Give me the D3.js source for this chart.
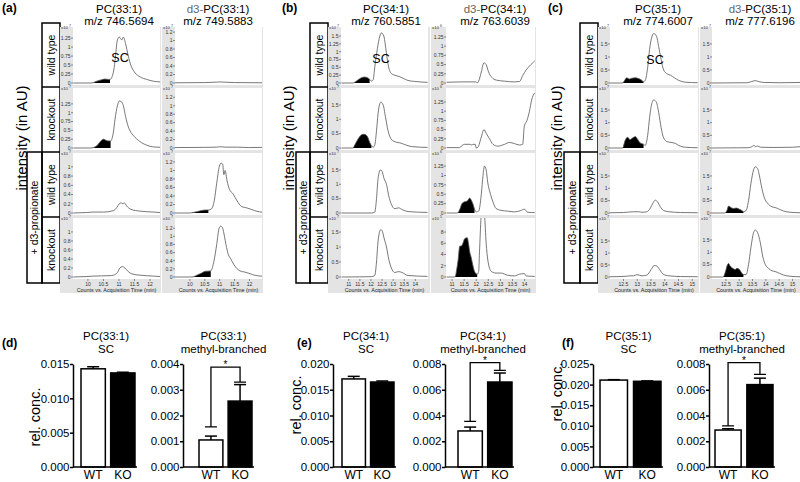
<!DOCTYPE html>
<html>
<head>
<meta charset="utf-8">
<script src="https://cdn.jsdelivr.net/npm/d3@7"></script>
<style>
  body { margin: 0; background: #fff; }
  text { font-family: "Liberation Sans", Arial, sans-serif; }
</style>
</head>
<body>
<svg id="fig" width="800" height="482"></svg>
<script>
// ---------- chromatogram data: [time (min), intensity] ----------
// (a) PC(33:1) / d3-PC(33:1), x10^7
const a_pc_wt = [[9.53,0],[10.10,0],[10.17,0.01],[10.28,0.05],[10.44,0.09],[10.55,0.11],[10.66,0.1],[10.71,0.1],[10.82,0.3],[10.87,0.6],[10.95,1.2],[11.01,1.28],[11.09,1.2],[11.14,1.28],[11.21,1.1],[11.30,0.75],[11.38,0.5],[11.52,0.28],[11.68,0.17],[11.89,0.1],[12.11,0.05],[12.32,0.03]];
const a_pc_ko = [[9.53,0],[10.10,0],[10.17,0.01],[10.28,0.06],[10.37,0.15],[10.44,0.22],[10.50,0.25],[10.58,0.22],[10.66,0.2],[10.73,0.2],[10.82,0.45],[10.87,0.8],[10.95,1.2],[11.01,1.33],[11.09,1.3],[11.14,1.2],[11.21,0.9],[11.30,0.6],[11.38,0.45],[11.52,0.3],[11.73,0.15],[11.89,0.08],[12.11,0.03],[12.32,0.02]];
const a_pc_wtP = [[9.53,0],[9.96,0.01],[10.17,0.02],[10.50,0.02],[10.82,0.05],[10.93,0.12],[11.01,0.2],[11.07,0.22],[11.12,0.2],[11.17,0.22],[11.25,0.15],[11.38,0.08],[11.68,0.04],[12.11,0.02],[12.32,0.01]];
const a_pc_koP = [[9.53,0],[9.96,0.01],[10.17,0.02],[10.71,0.03],[10.82,0.04],[10.95,0.1],[11.03,0.2],[11.11,0.23],[11.19,0.2],[11.30,0.12],[11.41,0.07],[11.68,0.04],[12.11,0.02],[12.32,0.01]];
const a_d3_wt = [[9.5,0.005],[10.5,0.01],[10.9,0.02],[11.0,0.025],[11.15,0.02],[11.5,0.01],[12.42,0.005]];
const a_d3_ko = [[9.5,0.01],[10.5,0.015],[10.9,0.02],[11.0,0.03],[11.2,0.02],[11.6,0.02],[12.0,0.01],[12.42,0.015]];
const a_d3_wtP = [[9.5,0],[10.0,0],[10.06,0.005],[10.23,0.03],[10.40,0.06],[10.51,0.07],[10.62,0.07],[10.73,0.1],[10.82,0.3],[10.90,0.7],[10.99,1.1],[11.05,1.17],[11.10,1.15],[11.14,0.9],[11.18,1.0],[11.25,0.75],[11.33,0.55],[11.45,0.45],[11.57,0.3],[11.74,0.15],[11.91,0.12],[12.08,0.08],[12.25,0.04],[12.42,0.02]];
const a_d3_koP = [[9.5,0],[10.0,0],[10.11,0.005],[10.25,0.05],[10.40,0.1],[10.51,0.14],[10.70,0.15],[10.81,0.4],[10.90,0.8],[10.98,1.2],[11.04,1.25],[11.10,1.2],[11.16,1.0],[11.21,0.8],[11.29,0.55],[11.37,0.45],[11.48,0.3],[11.68,0.15],[11.85,0.12],[12.02,0.08],[12.19,0.04],[12.42,0.02]];

// (b) PC(34:1) x10^7 / d3-PC(34:1) x10^6 (last row x10^5)
const b_pc_wt = [[10.67,0],[11.19,0],[11.24,0.01],[11.42,0.1],[11.57,0.17],[11.72,0.19],[11.84,0.17],[11.94,0.12],[12.02,0.06],[12.10,0.1],[12.17,0.5],[12.29,1.1],[12.40,1.5],[12.47,1.6],[12.58,1.5],[12.67,1.1],[12.77,0.6],[12.92,0.3],[13.07,0.25],[13.30,0.2],[13.45,0.15],[13.67,0.08],[13.97,0.05],[14.55,0.02]];
const b_pc_ko = [[10.67,0],[11.19,0],[11.30,0.15],[11.45,0.35],[11.60,0.47],[11.69,0.48],[11.84,0.4],[11.94,0.2],[12.02,0.08],[12.10,0.03],[12.17,0.1],[12.25,0.6],[12.32,1.2],[12.40,1.55],[12.44,1.6],[12.55,1.5],[12.65,1.1],[12.77,0.6],[12.92,0.3],[13.15,0.2],[13.30,0.18],[13.52,0.12],[13.82,0.05],[14.55,0.02]];
const b_pc_wtP = [[10.67,0],[12.02,0],[12.17,0.03],[12.25,0.5],[12.32,1.2],[12.43,1.5],[12.50,1.45],[12.59,1.2],[12.70,1.0],[12.80,0.6],[12.92,0.3],[13.07,0.15],[13.25,0.18],[13.40,0.12],[13.67,0.05],[14.55,0.02]];
const b_pc_koP = [[10.67,0],[11.5,0.005],[12.02,0.01],[12.17,0.05],[12.25,0.5],[12.32,1.2],[12.44,1.58],[12.50,1.55],[12.59,1.3],[12.70,1.0],[12.80,0.6],[12.92,0.3],[13.07,0.15],[13.25,0.18],[13.40,0.15],[13.67,0.05],[14.55,0.02]];
const b_d3_wt = [[10.77,0.02],[11.38,0.03],[12.0,0.03],[12.04,0.0],[12.10,0.05],[12.21,0.3],[12.32,0.55],[12.41,0.5],[12.51,0.3],[12.65,0.15],[12.82,0.08],[13.17,0.05],[13.58,0.03],[13.79,0.04],[13.92,0.2],[14.06,0.35],[14.26,0.5],[14.42,0.6]];
const b_d3_ko = [[10.77,0.01],[11.32,0.01],[11.38,0.05],[11.52,0.1],[11.73,0.1],[11.82,0.08],[11.86,0.1],[11.96,0.1],[12.0,0.0],[12.07,0.02],[12.21,0.3],[12.32,0.5],[12.41,0.4],[12.55,0.25],[12.69,0.1],[12.89,0.05],[13.17,0.1],[13.37,0.15],[13.58,0.12],[13.79,0.08],[13.92,0.1],[13.99,0.6],[14.10,0.75],[14.20,1.0],[14.29,1.3],[14.42,1.5]];
const b_d3_wtP = [[10.77,0],[11.18,0],[11.25,0.01],[11.32,0.1],[11.41,0.25],[11.52,0.3],[11.63,0.32],[11.73,0.4],[11.79,0.35],[11.86,0.25],[11.93,0.1],[12.0,0.03],[12.10,0.05],[12.21,0.5],[12.28,1.0],[12.34,1.25],[12.41,1.15],[12.48,0.8],[12.59,0.5],[12.69,0.3],[12.82,0.12],[13.03,0.07],[13.30,0.05],[13.58,0.03],[13.82,0.06],[13.99,0.1],[14.13,0.02],[14.42,0.01]];
const b_d3_koP = [[10.77,0],[11.11,0],[11.15,0.3],[11.18,1],[11.25,3],[11.32,5.5],[11.38,5.5],[11.45,6],[11.52,6.8],[11.63,7],[11.68,6],[11.73,4.5],[11.79,3.5],[11.84,2.5],[11.93,1],[12.04,0.5],[12.10,1],[12.14,5],[12.21,11],[12.28,12],[12.34,11],[12.41,6],[12.48,3],[12.62,1],[12.82,0.7],[13.03,0.7],[13.30,0.3],[13.58,0.2],[13.79,0.5],[13.99,0.6],[14.06,0.2],[14.42,0.1]];

// (c) PC(35:1) / d3-PC(35:1), x10^7
const c_pc_wt = [[12.01,0],[12.45,0],[12.48,0.01],[12.54,0.1],[12.62,0.2],[12.71,0.15],[12.80,0.18],[12.93,0.2],[13.05,0.17],[13.17,0.1],[13.23,0.05],[13.29,0.1],[13.38,0.6],[13.45,1.3],[13.54,1.8],[13.60,1.9],[13.70,1.8],[13.78,1.4],[13.87,0.9],[13.96,0.5],[14.09,0.35],[14.21,0.3],[14.35,0.2],[14.51,0.1],[14.76,0.03],[15.2,0.01]];
const c_pc_ko = [[12.01,0],[12.45,0],[12.48,0.01],[12.56,0.3],[12.65,0.42],[12.74,0.33],[12.84,0.4],[12.93,0.45],[13.01,0.35],[13.11,0.2],[13.23,0.15],[13.29,0.1],[13.38,0.5],[13.45,1.2],[13.54,1.8],[13.60,1.9],[13.70,1.8],[13.78,1.4],[13.87,0.8],[13.96,0.4],[14.09,0.25],[14.23,0.22],[14.39,0.18],[14.51,0.1],[14.76,0.03],[15.2,0.01]];
const c_pc_wtP = [[12.01,0.01],[12.5,0.02],[12.87,0.05],[13.05,0.05],[13.17,0.03],[13.35,0.05],[13.48,0.2],[13.57,0.4],[13.66,0.52],[13.74,0.45],[13.84,0.25],[13.96,0.1],[14.15,0.05],[14.57,0.02],[15.2,0.01]];
const c_pc_koP = [[12.01,0.01],[12.6,0.03],[12.74,0.05],[12.87,0.05],[12.99,0.1],[13.17,0.05],[13.35,0.08],[13.50,0.3],[13.62,0.48],[13.72,0.45],[13.82,0.3],[13.94,0.12],[14.15,0.05],[14.57,0.02],[15.2,0.01]];
const c_d3_wt = [[11.98,0],[13.3,0.01],[13.45,0.05],[13.60,0.09],[13.75,0.05],[13.95,0.02],[14.5,0.01],[15.28,0.02]];
const c_d3_ko = [[11.98,0],[13.3,0.01],[13.45,0.04],[13.56,0.1],[13.62,0.05],[13.68,0.08],[13.8,0.03],[14.3,0.02],[15.0,0.03],[15.28,0.05]];
const c_d3_wtP = [[11.98,0],[12.45,0],[12.48,0.01],[12.54,0.1],[12.60,0.28],[12.69,0.22],[12.79,0.18],[12.89,0.2],[13.01,0.15],[13.10,0.1],[13.16,0.05],[13.26,0.1],[13.35,0.5],[13.44,1.2],[13.54,1.75],[13.60,1.87],[13.69,1.8],[13.76,1.5],[13.85,1.0],[13.95,0.6],[14.06,0.4],[14.23,0.25],[14.35,0.22],[14.51,0.15],[14.66,0.08],[14.91,0.03],[15.28,0.01]];
const c_d3_koP = [[11.98,0],[12.38,0],[12.41,0.01],[12.48,0.2],[12.56,0.5],[12.60,0.55],[12.66,0.45],[12.76,0.35],[12.85,0.3],[12.91,0.35],[13.01,0.3],[13.10,0.15],[13.16,0.1],[13.26,0.1],[13.35,0.5],[13.44,1.2],[13.54,1.8],[13.60,1.9],[13.69,1.8],[13.79,1.4],[13.89,0.8],[13.98,0.5],[14.10,0.35],[14.23,0.25],[14.35,0.22],[14.51,0.15],[14.66,0.08],[14.91,0.03],[15.28,0.01]];

// shaded (methyl-branched) time windows per row
const a_pc_fill = [[10.17,10.71],[10.17,10.73],null,null];
const a_d3_fill = [null,null,[10.06,10.62],[10.11,10.70]];
const b_pc_fill = [[11.24,11.94],[11.19,12.02],null,null];
const b_d3_fill = [null,null,[11.25,11.93],[11.11,12.04]];
const c_pc_fill = [[12.48,13.23],[12.48,13.23],null,null];
const c_d3_fill = [null,null,[12.48,13.16],[12.41,13.16]];

// tick labels
const a_xTicks = [10,10.5,11,11.5,12];
const b_xTicks = [11,11.5,12,12.5,13,13.5,14];
const c_xTicks = [12.5,13,13.5,14,14.5,15];
const t025 = [0,0.25,0.5,0.75,1,1.25];
const t02 = [0,0.2,0.4,0.6,0.8,1];
const t02b = [0,0.2,0.4,0.6,0.8,1,1.2];
const t05 = [0,0.5,1,1.5];
const a_pcTicks = [t025,t025,t02,t02];
const a_d3Ticks = [t02b,t02b,t02b,t02b];
const b_pcTicks = [[0,0.25,0.5,0.75,1,1.25,1.5],t05,t05,t05];
const b_d3Ticks = [t025,t025,t025,[0,2,4,6,8]];
const c_pcTicks = [t05,t05,t05,t05];
const c_d3Ticks = [t05,t05,t05,t05];
const a_exp = [7,7,7,7], b_pcExp = [7,7,7,7], b_d3Exp = [6,6,6,5], c_exp = [7,7,7,7];
const rowNames = ["wild type","knockout","wild type","knockout"];

// ---------- bar chart data ----------
const groups = ["WT","KO"];
const sc33 = [0.0143,0.0137], sc33Err = [0.0003,0.0001];
const mb33 = [0.00105,0.00256], mb33Err = [0.00015,0.00064], mb33Sig = [0.00156,0.00388,0.0033];
const sc34 = [0.0171,0.0165], sc34Err = [0.0005,0.0002];
const mb34 = [0.0028,0.0066], mb34Err = [0.0003,0.0007], mb34Sig = [0.00355,0.0081,0.0075];
const sc35 = [0.0211,0.0208], sc35Err = [0.0001,0.0001];
const mb35 = [0.00287,0.0064], mb35Err = [0.0001,0.0005], mb35Sig = [0.0032,0.0081,0.0072];

const svg = d3.select("#fig");
const rowTop = [27, 88, 153, 218];
const rowZero = [83, 148, 213, 277];
let clipN = 0;

function interp(pts, t) {
  for (let i = 0; i < pts.length - 1; i++) {
    if (t >= pts[i][0] && t <= pts[i + 1][0]) {
      const f = (t - pts[i][0]) / (pts[i + 1][0] - pts[i][0]);
      return pts[i][1] + f * (pts[i + 1][1] - pts[i][1]);
    }
  }
  return 0;
}

function segment(pts, r) {
  const out = [[r[0], interp(pts, r[0])]];
  pts.filter(p => p[0] > r[0] && p[0] < r[1]).forEach(p => out.push(p));
  out.push([r[1], interp(pts, r[1])]);
  return out;
}

function drawColumn(col) {
  const g = svg.append("g");
  g.append("rect").attr("x", col.gray[0]).attr("y", 27)
    .attr("width", col.gray[1] - col.gray[0]).attr("height", 266).attr("fill", "#e4e4e4");
  const x = d3.scaleLinear().domain(col.dom).range(col.plot);

  col.traces.forEach((tr, i) => {
    const top = rowTop[i], zero = rowZero[i];
    const y = d3.scaleLinear().domain([0, col.ymax[i]]).range([zero, top]);
    g.append("rect").attr("x", col.plot[0]).attr("y", top)
      .attr("width", col.plot[1] - col.plot[0]).attr("height", zero + 2 - top).attr("fill", "#fff");
    const id = "clip" + (clipN++);
    g.append("clipPath").attr("id", id).append("rect")
      .attr("x", col.plot[0]).attr("y", top)
      .attr("width", col.plot[1] - col.plot[0]).attr("height", zero + 2 - top);

    if (col.fills[i]) {
      const area = d3.area().curve(d3.curveMonotoneX)
        .x(d => x(d[0])).y0(zero).y1(d => y(d[1]));
      g.append("path").attr("d", area(segment(tr, col.fills[i])))
        .attr("fill", "#000").attr("clip-path", `url(#${id})`);
    }
    const line = d3.line().curve(d3.curveMonotoneX).x(d => x(d[0])).y(d => y(d[1]));
    g.append("path").attr("d", line(tr)).attr("fill", "none")
      .attr("stroke", "#555").attr("stroke-width", 0.8).attr("clip-path", `url(#${id})`);

    // y ticks
    col.ticks[i].forEach(v => {
      g.append("line").attr("x1", col.plot[0] - 2).attr("x2", col.plot[0])
        .attr("y1", y(v)).attr("y2", y(v)).attr("stroke", "#444").attr("stroke-width", 0.6);
      g.append("text").attr("x", col.plot[0] - 2.5).attr("y", y(v) + 1.8)
        .attr("text-anchor", "end").attr("font-size", 5).attr("fill", "#333").text(String(v));
    });
    const ex = g.append("text").attr("x", col.gray[0] + 1).attr("y", top + 1.6)
      .attr("font-size", 4.3).attr("fill", "#333").text("x10");
    ex.append("tspan").attr("dy", -1.4).attr("font-size", 3.6).text(" " + col.exp[i]);
  });

  // x axis at bottom of last row
  col.xTicks.forEach(v => {
    g.append("line").attr("x1", x(v)).attr("x2", x(v)).attr("y1", 279).attr("y2", 281)
      .attr("stroke", "#444").attr("stroke-width", 0.6);
    g.append("text").attr("x", x(v)).attr("y", 286).attr("text-anchor", "middle")
      .attr("font-size", 5).attr("fill", "#333").text(String(v));
  });
  g.append("text").attr("x", (col.plot[0] + col.plot[1]) / 2).attr("y", 291.5)
    .attr("text-anchor", "middle").attr("font-size", 5.4).attr("fill", "#222")
    .text("Counts vs. Acquisition Time (min)");
}

function drawChromPanel(p) {
  const g = svg.append("g");
  g.append("text").attr("x", p.lx).attr("y", 12).attr("font-size", 12)
    .attr("font-weight", "bold").text(p.label);
  // headers
  g.append("text").attr("x", p.head[0]).attr("y", 13).attr("text-anchor", "middle")
    .attr("font-size", 11.5).text(p.lipid);
  g.append("text").attr("x", p.head[0]).attr("y", 25).attr("text-anchor", "middle")
    .attr("font-size", 11.5).text(p.mz);
  const h = g.append("text").attr("x", p.head[1]).attr("y", 13).attr("text-anchor", "middle")
    .attr("font-size", 11.5);
  h.append("tspan").attr("fill", "#666").text("d3-");
  h.append("tspan").text(p.lipid);
  g.append("text").attr("x", p.head[1]).attr("y", 25).attr("text-anchor", "middle")
    .attr("font-size", 11.5).text(p.d3mz);

  // y label
  g.append("text").attr("transform", `translate(${p.yl},138) rotate(-90)`)
    .attr("text-anchor", "middle").attr("font-size", 15).text("intensity (in AU)");

  // condition boxes
  const [ox, ix, ex] = p.box;
  const bounds = [23, 87, 152, 217, 283];
  g.append("rect").attr("x", ix).attr("y", 23).attr("width", ex - ix).attr("height", 260)
    .attr("fill", "none").attr("stroke", "#000").attr("stroke-width", 1.5);
  [87, 152, 217].forEach(v => g.append("line").attr("x1", ix).attr("x2", ex)
    .attr("y1", v).attr("y2", v).attr("stroke", "#000").attr("stroke-width", 1.5));
  g.append("rect").attr("x", ox).attr("y", 152).attr("width", ix - ox).attr("height", 131)
    .attr("fill", "none").attr("stroke", "#000").attr("stroke-width", 1.5);
  rowNames.forEach((n, i) => {
    const cy = (bounds[i] + bounds[i + 1]) / 2;
    g.append("text").attr("transform", `translate(${(ix + ex) / 2 + 3.8},${cy}) rotate(-90)`)
      .attr("text-anchor", "middle").attr("font-size", 10.5).text(n);
  });
  g.append("text").attr("transform", `translate(${(ox + ix) / 2 + 3.8},217.5) rotate(-90)`)
    .attr("text-anchor", "middle").attr("font-size", 10.5).text("+ d3-propionate");

  p.cols.forEach(drawColumn);
  svg.append("text").attr("x", p.sc[0]).attr("y", p.sc[1]).attr("text-anchor", "middle")
    .attr("font-size", 12.5).text("SC");
}

const chromPanels = [
  { label: "(a)", lx: 2, lipid: "PC(33:1)", mz: "m/z 746.5694", d3mz: "m/z 749.5883",
    head: [119, 218], yl: 27, box: [27, 42, 60], sc: [120, 62],
    cols: [
      { gray: [60, 161], plot: [73, 160], dom: [9.52, 12.32], traces: [a_pc_wt, a_pc_ko, a_pc_wtP, a_pc_koP],
        fills: a_pc_fill, ticks: a_pcTicks, exp: a_exp, ymax: [1.56, 1.7, 1.3, 1.31], xTicks: a_xTicks },
      { gray: [162, 263], plot: [175, 262], dom: [9.5, 12.42], traces: [a_d3_wt, a_d3_ko, a_d3_wtP, a_d3_koP],
        fills: a_d3_fill, ticks: a_d3Ticks, exp: a_exp, ymax: [1.32, 1.42, 1.41, 1.45], xTicks: a_xTicks }
    ] },
  { label: "(b)", lx: 282, lipid: "PC(34:1)", mz: "m/z 760.5851", d3mz: "m/z 763.6039",
    head: [386, 495], yl: 294, box: [296, 310, 328], sc: [381, 63],
    cols: [
      { gray: [328, 430], plot: [341, 428], dom: [10.65, 14.57], traces: [b_pc_wt, b_pc_ko, b_pc_wtP, b_pc_koP],
        fills: b_pc_fill, ticks: b_pcTicks, exp: b_pcExp, ymax: [1.79, 2.09, 2.09, 1.97], xTicks: b_xTicks },
      { gray: [431, 536], plot: [446, 535], dom: [10.75, 14.43], traces: [b_d3_wt, b_d3_ko, b_d3_wtP, b_d3_koP],
        fills: b_d3_fill, ticks: b_d3Ticks, exp: b_d3Exp, ymax: [1.52, 1.63, 1.6, 10.5], xTicks: b_xTicks }
    ] },
  { label: "(c)", lx: 548, lipid: "PC(35:1)", mz: "m/z 774.6007", d3mz: "m/z 777.6196",
    head: [658, 760], yl: 562, box: [564, 580, 598], sc: [655, 64],
    cols: [
      { gray: [598, 699], plot: [610, 698], dom: [12.01, 15.21], traces: [c_pc_wt, c_pc_ko, c_pc_wtP, c_pc_koP],
        fills: c_pc_fill, ticks: c_pcTicks, exp: c_exp, ymax: [2.15, 2.37, 2.43, 2.46], xTicks: c_xTicks },
      { gray: [700, 800], plot: [712, 800], dom: [11.98, 15.28], traces: [c_d3_wt, c_d3_ko, c_d3_wtP, c_d3_koP],
        fills: c_d3_fill, ticks: c_d3Ticks, exp: c_exp, ymax: [2.15, 2.37, 2.43, 2.39], xTicks: c_xTicks }
    ] }
];
chromPanels.forEach(drawChromPanel);

// ---------- bar charts ----------
function drawBars(c) {
  const g = svg.append("g");
  const y = d3.scaleLinear().domain([0, c.ticks[c.ticks.length - 1]]).range([467, 364]);
  const x = d3.scaleBand().domain(groups).range(c.band).paddingInner(0.18);
  const cx = d => x(d) + x.bandwidth() / 2;

  g.append("text").attr("x", (c.band[0] + c.band[1]) / 2 - 2).attr("y", 340)
    .attr("text-anchor", "middle").attr("font-size", 11.5).text(c.title[0]);
  g.append("text").attr("x", (c.band[0] + c.band[1]) / 2 - 2).attr("y", 353)
    .attr("text-anchor", "middle").attr("font-size", 11.5).text(c.title[1]);

  groups.forEach((k, i) => {
    g.append("rect").attr("x", x(k)).attr("y", y(c.vals[i]))
      .attr("width", x.bandwidth()).attr("height", 467 - y(c.vals[i]))
      .attr("fill", i ? "#000" : "#fff").attr("stroke", "#000").attr("stroke-width", 1.5);
    const ye = y(c.vals[i] + c.errs[i]);
    g.append("line").attr("x1", cx(k)).attr("x2", cx(k)).attr("y1", y(c.vals[i])).attr("y2", ye)
      .attr("stroke", "#000").attr("stroke-width", 1.5);
    g.append("line").attr("x1", cx(k) - 6).attr("x2", cx(k) + 6).attr("y1", ye).attr("y2", ye)
      .attr("stroke", "#000").attr("stroke-width", 1.5);
    g.append("text").attr("x", cx(k)).attr("y", 479).attr("text-anchor", "middle")
      .attr("font-size", 12).text(k);
  });

  if (c.sig) {
    const [a, top, b] = c.sig.map(y);
    const x1 = cx("WT"), x2 = cx("KO");
    g.append("path").attr("d", `M${x1 - 6},${a}H${x1 + 6}M${x1},${a}V${top}H${x2}V${b}M${x2 - 6},${b}H${x2 + 6}`)
      .attr("fill", "none").attr("stroke", "#000").attr("stroke-width", 1.3);
    g.append("text").attr("x", (x1 + x2) / 2).attr("y", top + 1).attr("text-anchor", "middle")
      .attr("font-size", 10).text("*");
  }

  const ax = g.append("g").attr("transform", `translate(${c.axisX},0)`)
    .call(d3.axisLeft(y).tickValues(c.ticks).tickFormat(d3.format(".3f")).tickSize(3).tickSizeOuter(0).tickPadding(0.5));
  ax.selectAll("path,line").attr("stroke", "#000").attr("stroke-width", 1.5);
  ax.selectAll("text").attr("font-size", 11.5).attr("fill", "#000")
    .attr("font-family", "Liberation Sans, Arial, sans-serif");
  g.append("line").attr("x1", c.axisX).attr("x2", c.band[1] + 2).attr("y1", 467).attr("y2", 467)
    .attr("stroke", "#000").attr("stroke-width", 1.5);
}

const barPanels = [
  { label: "(d)", lx: 2, yl: [40, 417], charts: [
    { axisX: 73, band: [81, 135], title: ["PC(33:1)", "SC"], vals: sc33, errs: sc33Err, ticks: [0, 0.005, 0.01, 0.015] },
    { axisX: 183, band: [199, 252], title: ["PC(33:1)", "methyl-branched"], vals: mb33, errs: mb33Err, sig: mb33Sig, ticks: [0, 0.001, 0.002, 0.003, 0.004] }
  ] },
  { label: "(e)", lx: 297, yl: [301, 405], charts: [
    { axisX: 333, band: [342, 394], title: ["PC(34:1)", "SC"], vals: sc34, errs: sc34Err, ticks: [0, 0.005, 0.01, 0.015, 0.02] },
    { axisX: 445, band: [458, 512], title: ["PC(34:1)", "methyl-branched"], vals: mb34, errs: mb34Err, sig: mb34Sig, ticks: [0, 0.002, 0.004, 0.006, 0.008] }
  ] },
  { label: "(f)", lx: 562, yl: [562, 392], charts: [
    { axisX: 593, band: [600, 661], title: ["PC(35:1)", "SC"], vals: sc35, errs: sc35Err, ticks: [0, 0.005, 0.01, 0.015, 0.02, 0.025] },
    { axisX: 709, band: [715, 773], title: ["PC(35:1)", "methyl-branched"], vals: mb35, errs: mb35Err, sig: mb35Sig, ticks: [0, 0.002, 0.004, 0.006, 0.008] }
  ] }
];

barPanels.forEach(p => {
  svg.append("text").attr("x", p.lx).attr("y", 347).attr("font-size", 12)
    .attr("font-weight", "bold").text(p.label);
  svg.append("text").attr("transform", `translate(${p.yl[0]},${p.yl[1]}) rotate(-90)`)
    .attr("text-anchor", "middle").attr("font-size", 14.5).text("rel. conc.");
  p.charts.forEach(drawBars);
});
</script>
</body>
</html>
